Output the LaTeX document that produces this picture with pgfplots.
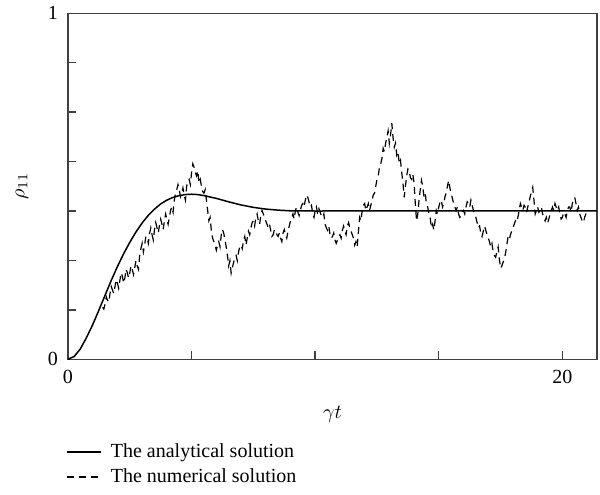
\documentclass[border=0pt]{standalone}
\usepackage{fontspec}
\setmainfont{Liberation Serif}
\usepackage{pgfplots}
\pgfplotsset{compat=1.18}

\pgfplotstableread{
t rho
0 0
0.25 0.008
0.5 0.03
0.75 0.063
1.0 0.10
1.25 0.142
1.5 0.185
1.75 0.228
2.0 0.268
2.25 0.305
2.5 0.338
2.75 0.368
3.0 0.394
3.25 0.416
3.5 0.434
3.75 0.449
4.0 0.460
4.25 0.468
4.5 0.473
4.75 0.476
5.0 0.477
5.25 0.476
5.5 0.473
6.0 0.465
6.5 0.455
7.0 0.446
7.5 0.439
8.0 0.434
8.5 0.431
9.0 0.429
10 0.4285
12 0.4286
16 0.4286
21.4 0.4286
}\analytical

\pgfplotstableread{
t rho
1.4 0.15
1.45 0.145
1.5 0.16
1.55 0.18
1.6 0.17
1.65 0.165
1.7 0.19
1.75 0.21
1.8 0.20
1.85 0.19
1.9 0.21
1.95 0.23
2.0 0.22
2.05 0.205
2.1 0.228
2.15 0.25
2.2 0.24
2.25 0.22
2.3 0.235
2.35 0.26
2.4 0.25
2.45 0.235
2.5 0.25
2.55 0.27
2.6 0.26
2.65 0.245
2.7 0.265
2.75 0.285
2.8 0.27
2.85 0.26
2.9 0.30
2.95 0.32
3.0 0.335
3.05 0.31
3.1 0.33
3.15 0.355
3.2 0.35
3.25 0.335
3.3 0.364
3.35 0.38
3.4 0.36
3.45 0.345
3.5 0.375
3.55 0.395
3.6 0.38
3.65 0.365
3.7 0.387
3.75 0.405
3.8 0.39
3.85 0.375
3.9 0.40
3.95 0.42
4.0 0.405
4.05 0.39
4.1 0.41
4.15 0.43
4.2 0.44
4.25 0.425
4.3 0.46
4.35 0.48
4.4 0.49
4.45 0.505
4.5 0.49
4.55 0.47
4.6 0.48
4.65 0.495
4.7 0.474
4.75 0.46
4.8 0.50
4.85 0.515
4.9 0.52
4.95 0.505
5.0 0.54
5.05 0.565
5.1 0.555
5.15 0.54
5.2 0.53
5.25 0.545
5.3 0.51
5.35 0.52
5.4 0.50
5.45 0.485
5.5 0.48
5.55 0.49
5.6 0.46
5.65 0.43
5.7 0.40
5.75 0.41
5.8 0.37
5.85 0.35
5.9 0.34
5.95 0.33
6.0 0.315
6.05 0.33
6.1 0.34
6.15 0.325
6.2 0.36
6.25 0.375
6.3 0.364
6.35 0.345
6.4 0.325
6.45 0.30
6.5 0.27
6.55 0.285
6.6 0.249
6.65 0.265
6.7 0.28
6.75 0.295
6.8 0.30
6.85 0.285
6.9 0.31
6.95 0.325
7.0 0.33
7.05 0.32
7.1 0.344
7.15 0.355
7.2 0.33
7.25 0.35
7.3 0.37
7.35 0.36
7.4 0.38
7.45 0.395
7.5 0.40
7.55 0.385
7.6 0.41
7.65 0.42
7.7 0.40
7.75 0.39
7.8 0.415
7.85 0.43
7.9 0.42
7.95 0.41
8.0 0.40
8.05 0.39
8.1 0.38
8.15 0.39
8.2 0.373
8.25 0.355
8.3 0.36
8.35 0.375
8.4 0.37
8.45 0.36
8.5 0.355
8.55 0.365
8.6 0.35
8.65 0.34
8.7 0.365
8.75 0.375
8.8 0.36
8.85 0.35
8.9 0.37
8.95 0.385
9.0 0.40
9.05 0.41
9.1 0.42
9.15 0.405
9.2 0.43
9.25 0.44
9.3 0.425
9.35 0.415
9.4 0.43
9.45 0.445
9.5 0.45
9.55 0.44
9.6 0.46
9.65 0.475
9.7 0.468
9.75 0.455
9.8 0.44
9.85 0.445
9.9 0.42
9.95 0.41
10.0 0.43
10.05 0.44
10.1 0.42
10.15 0.435
10.2 0.425
10.25 0.415
10.3 0.41
10.35 0.42
10.4 0.39
10.45 0.38
10.5 0.373
10.55 0.385
10.6 0.36
10.65 0.35
10.7 0.355
10.75 0.365
10.8 0.345
10.85 0.335
10.9 0.344
10.95 0.355
11.0 0.36
11.05 0.35
11.1 0.373
11.15 0.385
11.2 0.37
11.25 0.36
11.3 0.385
11.35 0.395
11.4 0.38
11.45 0.37
11.5 0.36
11.55 0.35
11.6 0.33
11.65 0.34
11.7 0.325
11.75 0.37
11.8 0.41
11.85 0.40
11.9 0.43
11.95 0.445
12.0 0.45
12.05 0.43
12.1 0.44
12.15 0.45
12.2 0.43
12.25 0.445
12.3 0.46
12.35 0.475
12.4 0.48
12.45 0.50
12.5 0.52
12.55 0.53
12.6 0.555
12.65 0.565
12.7 0.58
12.75 0.61
12.8 0.60
12.85 0.625
12.9 0.642
12.95 0.66
13.0 0.624
13.05 0.65
13.1 0.682
13.15 0.64
13.2 0.613
13.25 0.625
13.3 0.59
13.35 0.60
13.4 0.566
13.45 0.575
13.5 0.54
13.55 0.51
13.6 0.468
13.65 0.50
13.7 0.53
13.75 0.55
13.8 0.546
13.85 0.525
13.9 0.52
13.95 0.535
14.0 0.51
14.05 0.45
14.1 0.40
14.15 0.42
14.2 0.46
14.25 0.49
14.3 0.517
14.35 0.50
14.4 0.47
14.45 0.48
14.5 0.45
14.55 0.44
14.6 0.42
14.65 0.41
14.7 0.38
14.75 0.39
14.8 0.373
14.85 0.40
14.9 0.43
14.95 0.42
15.0 0.44
15.05 0.455
15.1 0.46
15.15 0.44
15.2 0.45
15.25 0.47
15.3 0.48
15.35 0.50
15.4 0.517
15.45 0.495
15.5 0.48
15.55 0.465
15.6 0.45
15.65 0.44
15.7 0.43
15.75 0.44
15.8 0.42
15.85 0.41
15.9 0.415
15.95 0.425
16.0 0.43
16.05 0.42
16.1 0.44
16.15 0.455
16.2 0.45
16.25 0.44
16.3 0.46
16.35 0.445
16.4 0.43
16.45 0.42
16.5 0.41
16.55 0.395
16.6 0.38
16.65 0.385
16.7 0.364
16.75 0.355
16.8 0.37
16.85 0.385
16.9 0.373
16.95 0.36
17.0 0.35
17.05 0.34
17.1 0.325
17.15 0.335
17.2 0.31
17.25 0.30
17.3 0.295
17.35 0.31
17.4 0.325
17.45 0.29
17.5 0.263
17.55 0.27
17.6 0.28
17.65 0.29
17.7 0.306
17.75 0.33
17.8 0.353
17.85 0.345
17.9 0.36
17.95 0.37
18.0 0.38
18.05 0.39
18.1 0.40
18.15 0.395
18.2 0.41
18.25 0.43
18.3 0.45
18.35 0.44
18.4 0.43
18.45 0.445
18.5 0.44
18.55 0.425
18.6 0.44
18.65 0.455
18.7 0.47
18.75 0.485
18.8 0.497
18.85 0.46
18.9 0.42
18.95 0.43
19.0 0.44
19.05 0.425
19.1 0.43
19.15 0.44
19.2 0.42
19.25 0.41
19.3 0.40
19.35 0.41
19.4 0.393
19.45 0.405
19.5 0.42
19.55 0.43
19.6 0.44
19.65 0.43
19.7 0.45
19.75 0.44
19.8 0.43
19.85 0.44
19.9 0.42
19.95 0.405
20.0 0.41
20.05 0.425
20.1 0.42
20.15 0.41
20.2 0.43
20.25 0.44
20.3 0.44
20.35 0.425
20.4 0.45
20.45 0.46
20.5 0.468
20.55 0.45
20.6 0.43
20.65 0.44
20.7 0.42
20.75 0.41
20.8 0.40
20.85 0.395
20.9 0.41
20.95 0.42
21.0 0.42
21.05 0.415
21.1 0.41
}\numerical

\begin{document}
\begin{tikzpicture}[font=\fontsize{10}{12}\selectfont]
\begin{axis}[
    name=ax,
    scale only axis,
    width=264.5pt,
    height=173pt,
    xmin=0, xmax=21.4,
    ymin=0, ymax=1,
    axis line style={black!75, line width=0.7pt},
    xtick={0,5,10,15,20},
    xticklabels={0,,,,20},
    ytick={0,0.142857,0.285714,0.428571,0.571429,0.714286,0.857143,1},
    yticklabels={0,,,,,,,1},
    tick pos=left,
    tick align=inside,
    major tick length=4pt,
    tick style={black!75, line width=0.7pt},
    /pgf/number format/assume math mode=true,
    yticklabel style={xshift=-1.5pt},
    xticklabel style={yshift=-2pt},
    xlabel={$\gamma t$},
    ylabel={$\rho_{11}$},
    xlabel style={at={(axis description cs:0.5,0)}, anchor=north, yshift=-20pt},
    ylabel style={at={(axis description cs:-0.087,0.5)}, anchor=center},
    legend style={at={(axis description cs:0,0)}, anchor=north west,
        yshift=-38pt, xshift=-4pt, draw=none, fill=none,
        row sep=0pt, font=\fontsize{10}{12}\selectfont},
    legend cell align=left,
    legend image code/.code={\draw[#1] (0pt,0pt) -- (17pt,0pt); \path (19.5pt,0pt);},
    clip=true,
]
\addplot[black, line width=0.75pt] table[x=t, y=rho] {\analytical};
\addlegendentry{The analytical solution}
\addplot[black, line width=0.6pt, dash pattern=on 3.5pt off 2.5pt] table[x=t, y=rho] {\numerical};
\addlegendentry{The numerical solution}
\end{axis}
\path ([xshift=-34pt,yshift=-67.5pt]ax.south west) rectangle ([xshift=1.5pt,yshift=6.5pt]ax.north east);
\end{tikzpicture}
\end{document}
